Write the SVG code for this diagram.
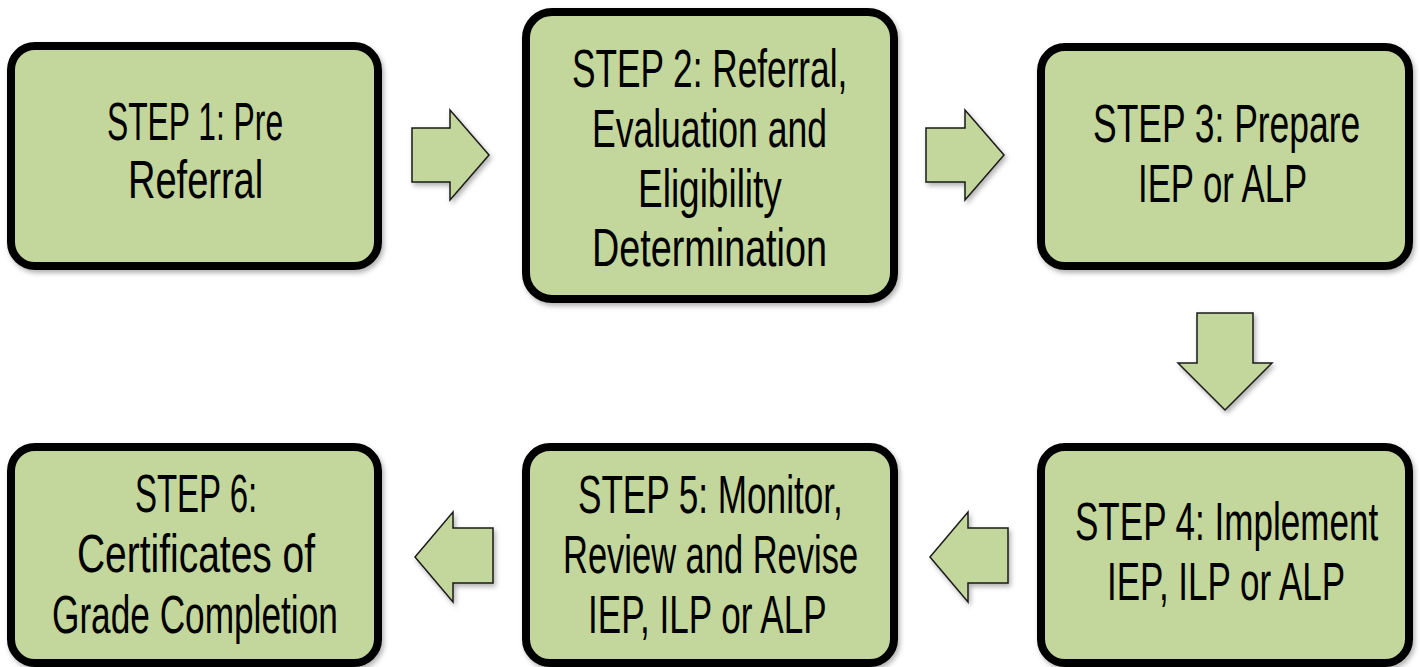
<svg xmlns="http://www.w3.org/2000/svg" width="1420" height="667" viewBox="0 0 1420 667">
<defs>
<filter id="sh" x="-10%" y="-10%" width="120%" height="120%">
<feDropShadow dx="2" dy="3" stdDeviation="2.5" flood-color="#000" flood-opacity="0.3"/>
</filter>
<style>
.box{fill:#C3D69B;stroke:#000;stroke-width:8;filter:url(#sh)}
.arr{fill:#C3D69B;stroke:#1a1a1a;stroke-width:1.5;stroke-linejoin:miter;filter:url(#sh)}
.t{font-family:"Liberation Sans",Arial,sans-serif;font-size:54px;fill:#000;font-weight:normal}
</style>
</defs>
<rect width="1420" height="667" fill="#fff"/>
<g id="connectors">
<polygon class="arr" points="412,128 450,128 450,110 489,155 450,200 450,182 412,182"/>
<polygon class="arr" points="926,128 965,128 965,110 1004,155 965,200 965,182 926,182"/>
<polygon class="arr" points="1197,313 1253,313 1253,363 1272,363 1225,410 1178,363 1197,363"/>
<polygon class="arr" points="1008,528 1008,583 968,583 968,602 930,557 968,512 968,528"/>
<polygon class="arr" points="493,528 493,583 453,583 453,602 415,557 453,512 453,528"/>
</g>
<g id="step1">
<rect class="box" x="11" y="46" width="367" height="220" rx="24"/>
<text class="t" transform="translate(107,140) scale(0.62,1)" textLength="284" lengthAdjust="spacingAndGlyphs">STEP 1: Pre</text>
<text class="t" transform="translate(128,198) scale(0.62,1)" textLength="218" lengthAdjust="spacingAndGlyphs">Referral</text>
</g>
<g id="step2">
<rect class="box" x="526" y="12" width="368" height="287" rx="26"/>
<text class="t" transform="translate(572,87) scale(0.62,1)" textLength="444" lengthAdjust="spacingAndGlyphs">STEP 2: Referral,</text>
<text class="t" transform="translate(592,147) scale(0.62,1)" textLength="379" lengthAdjust="spacingAndGlyphs">Evaluation and</text>
<text class="t" transform="translate(638,207) scale(0.62,1)" textLength="232" lengthAdjust="spacingAndGlyphs">Eligibility</text>
<text class="t" transform="translate(592,266) scale(0.62,1)" textLength="379" lengthAdjust="spacingAndGlyphs">Determination</text>
</g>
<g id="step3">
<rect class="box" x="1041" y="47" width="368" height="219" rx="24"/>
<text class="t" transform="translate(1093,142) scale(0.62,1)" textLength="431" lengthAdjust="spacingAndGlyphs">STEP 3: Prepare</text>
<text class="t" transform="translate(1138,202) scale(0.62,1)" textLength="273" lengthAdjust="spacingAndGlyphs">IEP or ALP</text>
</g>
<g id="step4">
<rect class="box" x="1041" y="447" width="368" height="216" rx="24"/>
<text class="t" transform="translate(1075,540) scale(0.62,1)" textLength="489" lengthAdjust="spacingAndGlyphs">STEP 4: Implement</text>
<text class="t" transform="translate(1107,600) scale(0.62,1)" textLength="384" lengthAdjust="spacingAndGlyphs">IEP, ILP or ALP</text>
</g>
<g id="step5">
<rect class="box" x="526" y="447" width="368" height="216" rx="24"/>
<text class="t" transform="translate(578,513) scale(0.62,1)" textLength="427" lengthAdjust="spacingAndGlyphs">STEP 5: Monitor,</text>
<text class="t" transform="translate(563,573) scale(0.62,1)" textLength="476" lengthAdjust="spacingAndGlyphs">Review and Revise</text>
<text class="t" transform="translate(588,633) scale(0.62,1)" textLength="385" lengthAdjust="spacingAndGlyphs">IEP, ILP or ALP</text>
</g>
<g id="step6">
<rect class="box" x="11" y="447" width="367" height="216" rx="24"/>
<text class="t" transform="translate(135,512) scale(0.62,1)" textLength="197" lengthAdjust="spacingAndGlyphs">STEP 6:</text>
<text class="t" transform="translate(77,572) scale(0.62,1)" textLength="384" lengthAdjust="spacingAndGlyphs">Certificates of</text>
<text class="t" transform="translate(52,633) scale(0.62,1)" textLength="461" lengthAdjust="spacingAndGlyphs">Grade Completion</text>
</g>
</svg>
